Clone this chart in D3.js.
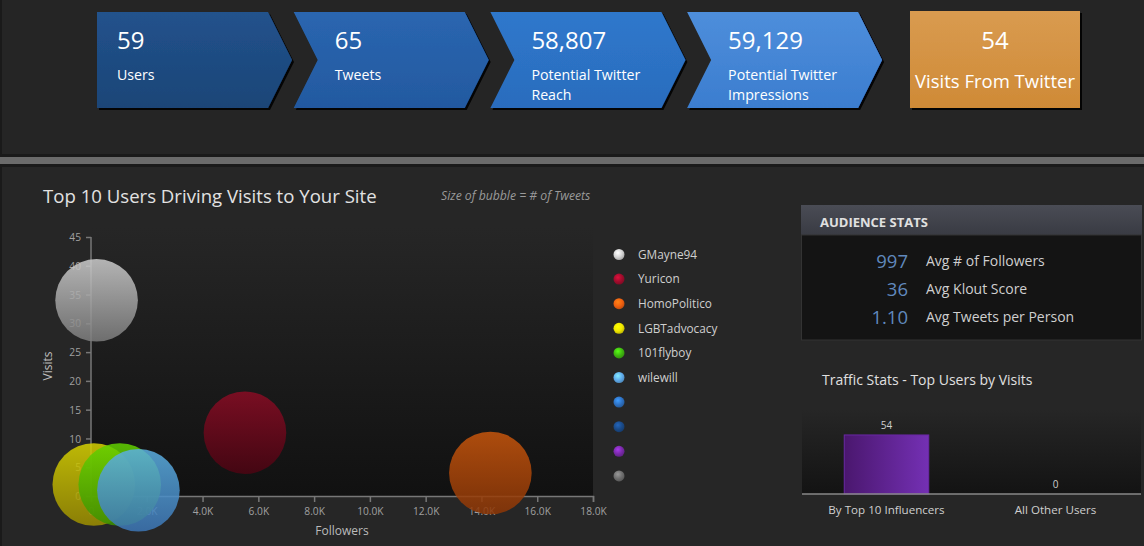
<!DOCTYPE html>
<html>
<head>
<meta charset="utf-8">
<script src="https://cdn.jsdelivr.net/npm/d3@7"></script>
<style>
  html, body { margin: 0; padding: 0; background: #252525; overflow: hidden; }
  svg { display: block; font-family: "Open Sans", "Noto Sans", sans-serif; }
</style>
</head>
<body>
<script>
// KPI banner
var kpiValues = [59, 65, 58807, 59129];
var kpiLabels = [["Users"], ["Tweets"], ["Potential Twitter", "Reach"], ["Potential Twitter", "Impressions"]];
var twitterVisits = 54;
var twitterVisitsLabel = "Visits From Twitter";

// Bubble chart
var users     = ["GMayne94", "Yuricon", "HomoPolitico", "LGBTadvocacy", "101flyboy", "wilewill"];
var followers = [200, 5520, 14320, 100, 1030, 1700];
var visits    = [34, 11, 4, 2, 2, 1];
var tweets    = [1, 1, 1, 1, 1, 1];
var legendNames = ["GMayne94", "Yuricon", "HomoPolitico", "LGBTadvocacy", "101flyboy", "wilewill", "", "", "", ""];
var xTicks = [0, 2000, 4000, 6000, 8000, 10000, 12000, 14000, 16000, 18000];
var yTicks = [0, 5, 10, 15, 20, 25, 30, 35, 40, 45];

// Audience stats
var audienceValues = ["997", "36", "1.10"];
var audienceLabels = ["Avg # of Followers", "Avg Klout Score", "Avg Tweets per Person"];

// Traffic stats
var trafficCats   = ["By Top 10 Influencers", "All Other Users"];
var trafficVisits = [54, 0];

// palettes (style)
var kpiColors = [["#22528c", "#1b4577"], ["#2a66b0", "#2359a0"], ["#2f78cc", "#2a6cbd"], ["#4e8edb", "#3b7dcf"]];
var legendColors = ["#d4d4d4", "#a00c2c", "#f06010", "#f0e800", "#40b810", "#60acec", "#2e72c4", "#1a4a88", "#7a2aaa", "#6e6e6e"];
var bubbleColors = [["#cdcdcd", "#7c7c7c"], ["#8a0c24", "#4c0412"], ["#c8560c", "#8c3606"],
                    ["#d8d200", "#9c8e00"], ["#62d200", "#3a9000"], ["#5cb0e2", "#3c76b6"]];

var W = 1144, H = 546;
var svg = d3.select("body").append("svg").attr("width", W).attr("height", H);
var defs = svg.append("defs");

function vGrad(id, c1, c2, x1, y1, x2, y2) {
    var g = defs.append("linearGradient").attr("id", id)
        .attr("x1", x1 || "0").attr("y1", y1 || "0").attr("x2", x2 || "0").attr("y2", y2 || "1");
    g.append("stop").attr("offset", "0%").attr("stop-color", c1);
    g.append("stop").attr("offset", "100%").attr("stop-color", c2);
}

var shadow = defs.append("filter").attr("id", "shadow").attr("x", "-10%").attr("y", "-10%").attr("width", "130%").attr("height", "130%");
shadow.append("feDropShadow").attr("dx", 2).attr("dy", 2).attr("stdDeviation", 0.6)
    .attr("flood-color", "#000").attr("flood-opacity", 0.9);

// ---------- panels ----------
svg.append("rect").attr("x", 0).attr("y", 0).attr("width", W).attr("height", 155).attr("fill", "#252525");
svg.append("rect").attr("x", 0).attr("y", 0).attr("width", 2).attr("height", 155).attr("fill", "#1a1a1a");
svg.append("rect").attr("x", 0).attr("y", 154).attr("width", W).attr("height", 3).attr("fill", "#1a1a1a");
svg.append("rect").attr("x", 0).attr("y", 157).attr("width", W).attr("height", 7).attr("fill", "#6b6b6b");
svg.append("rect").attr("x", 0).attr("y", 164).attr("width", W).attr("height", 3).attr("fill", "#1a1a1a");
svg.append("rect").attr("x", 0).attr("y", 167).attr("width", W).attr("height", H - 167).attr("fill", "#262626");
svg.append("rect").attr("x", 0).attr("y", 167).attr("width", 2).attr("height", H - 167).attr("fill", "#1a1a1a");

// ---------- KPI chevrons ----------
var fmt = d3.format(",");
kpiValues.forEach(function(v, i) {
    var x0 = 97 + i * 196.7, top = 12, bot = 108, mid = 60;
    vGrad("kpi" + i, kpiColors[i][0], kpiColors[i][1]);
    var pts = [[x0, top], [x0 + 171, top], [x0 + 195, mid], [x0 + 171, bot], [x0, bot]];
    if (i > 0) pts.push([x0 + 24, mid]);
    svg.append("path")
        .attr("d", "M" + pts.map(function(p) { return p.join(","); }).join("L") + "Z")
        .attr("fill", "url(#kpi" + i + ")")
        .attr("filter", "url(#shadow)");
    var tx = x0 + (i > 0 ? 41 : 20);
    svg.append("text").attr("x", tx).attr("y", 49).attr("fill", "#fff")
        .style("font-size", "24px").text(fmt(v));
    kpiLabels[i].forEach(function(l, j) {
        svg.append("text").attr("x", tx).attr("y", 80 + j * 20).attr("fill", "#fff")
            .style("font-size", "14.2px").text(l);
    });
});

vGrad("orange", "#d99b50", "#cf8a36");
svg.append("rect").attr("x", 910).attr("y", 11).attr("width", 170).attr("height", 97)
    .attr("fill", "url(#orange)").attr("filter", "url(#shadow)");
svg.append("text").attr("x", 995).attr("y", 49).attr("text-anchor", "middle").attr("fill", "#fff")
    .style("font-size", "24px").text(twitterVisits);
svg.append("text").attr("x", 995).attr("y", 88).attr("text-anchor", "middle").attr("fill", "#fff")
    .style("font-size", "18.5px").text(twitterVisitsLabel);

// ---------- Bubble chart ----------
svg.append("text").attr("x", 43).attr("y", 203).attr("fill", "#e2e2e2")
    .style("font-size", "18.6px").text("Top 10 Users Driving Visits to Your Site");
svg.append("text").attr("x", 441).attr("y", 200).attr("fill", "#9a9a9a")
    .style("font-size", "12.2px").style("font-style", "italic").text("Size of bubble = # of Tweets");

var x = d3.scaleLinear().domain([0, 18000]).range([91, 593]);
var y = d3.scaleLinear().domain([0, 45]).range([496, 237]);
var r = d3.scaleSqrt().domain([0, d3.max(tweets)]).range([0, 41.3]);

vGrad("plotbg", "#262626", "#111111");
svg.append("rect").attr("x", 91).attr("y", 228).attr("width", 502).attr("height", 268).attr("fill", "url(#plotbg)");

var xAxis = svg.append("g").attr("transform", "translate(0,496)")
    .call(d3.axisBottom(x).tickValues(xTicks).tickSize(6).tickPadding(6)
        .tickFormat(function(d) { return d === 0 ? "0" : (d / 1000).toFixed(1) + "K"; }));
var yAxis = svg.append("g").attr("transform", "translate(91,0)")
    .call(d3.axisLeft(y).tickValues(yTicks).tickSize(5).tickPadding(5));
[xAxis, yAxis].forEach(function(a) {
    a.select(".domain").attr("stroke", "#777").attr("stroke-width", 1.5);
    a.selectAll(".tick line").attr("stroke", "#777").attr("stroke-width", 1.5);
    a.selectAll(".tick text").attr("fill", "#a0a0a0").style("font-size", "10.2px")
        .style("font-family", "'Open Sans', sans-serif");
});
yAxis.select(".domain").attr("d", "M0,237V496");
yAxis.selectAll(".tick text").attr("dy", "0.35em");

svg.append("text").attr("transform", "translate(52,366) rotate(-90)").attr("text-anchor", "middle")
    .attr("fill", "#bbb").style("font-size", "12px").text("Visits");
svg.append("text").attr("x", 342).attr("y", 535).attr("text-anchor", "middle")
    .attr("fill", "#bbb").style("font-size", "12px").text("Followers");

users.forEach(function(u, i) {
    vGrad("bub" + i, bubbleColors[i][0], bubbleColors[i][1]);
});
svg.append("g").selectAll("circle").data(users).join("circle")
    .attr("cx", function(d, i) { return x(followers[i]); })
    .attr("cy", function(d, i) { return y(visits[i]); })
    .attr("r", function(d, i) { return r(tweets[i]); })
    .attr("fill", function(d, i) { return "url(#bub" + i + ")"; })
    .attr("opacity", 0.85);

// legend
legendColors.forEach(function(c, i) {
    var g = defs.append("radialGradient").attr("id", "leg" + i)
        .attr("cx", "40%").attr("cy", "35%").attr("r", "65%");
    g.append("stop").attr("offset", "0%").attr("stop-color", d3.color(c).brighter(0.9));
    g.append("stop").attr("offset", "60%").attr("stop-color", c);
    g.append("stop").attr("offset", "100%").attr("stop-color", d3.color(c).darker(0.6));
});
var legend = svg.append("g").selectAll("g").data(legendNames).join("g")
    .attr("transform", function(d, i) { return "translate(619," + (254.5 + i * 24.6) + ")"; });
legend.append("circle").attr("r", 5.5).attr("fill", function(d, i) { return "url(#leg" + i + ")"; });
legend.append("text").attr("x", 19).attr("dy", "0.36em").attr("fill", "#cfcfcf")
    .style("font-size", "11.8px").text(function(d) { return d; });

// ---------- Audience stats ----------
vGrad("hdr", "#4a4c55", "#393b43");
svg.append("rect").attr("x", 801).attr("y", 205).attr("width", 341).attr("height", 30).attr("fill", "url(#hdr)");
svg.append("rect").attr("x", 801.5).attr("y", 235).attr("width", 340).attr("height", 105)
    .attr("fill", "#141414").attr("stroke", "#333");
svg.append("text").attr("x", 820).attr("y", 227).attr("fill", "#e0e0e0")
    .style("font-size", "13px").style("font-weight", "bold").text("AUDIENCE STATS");
audienceValues.forEach(function(v, i) {
    svg.append("text").attr("x", 908).attr("y", 268 + i * 28).attr("text-anchor", "end")
        .attr("fill", "#6089bd").style("font-size", "18.5px").text(v);
    svg.append("text").attr("x", 926).attr("y", 266 + i * 28)
        .attr("fill", "#cfcfcf").style("font-size", "14px").text(audienceLabels[i]);
});

// ---------- Traffic stats ----------
svg.append("text").attr("x", 822).attr("y", 385).attr("fill", "#e0e0e0")
    .style("font-size", "14px").text("Traffic Stats - Top Users by Visits");

var bx = d3.scaleBand().domain(trafficCats).range([802, 1140]).paddingInner(0.5).paddingOuter(0.25);
var by = d3.scaleLinear().domain([0, 60]).range([494, 428.4]);

vGrad("trbg", "#262626", "#131313");
svg.append("rect").attr("x", 802).attr("y", 410).attr("width", 339).attr("height", 84).attr("fill", "url(#trbg)");
vGrad("bar", "#4a176e", "#7430b4", "0", "0", "1", "0");

svg.append("g").selectAll("rect").data(trafficCats).join("rect")
    .attr("x", function(d) { return bx(d); })
    .attr("y", function(d, i) { return by(trafficVisits[i]); })
    .attr("width", bx.bandwidth())
    .attr("height", function(d, i) { return by(0) - by(trafficVisits[i]); })
    .attr("fill", "url(#bar)").attr("stroke", "#6a28a4").attr("stroke-width", 1);
svg.append("g").selectAll("text").data(trafficCats).join("text")
    .attr("x", function(d) { return bx(d) + bx.bandwidth() / 2; })
    .attr("y", function(d, i) { return by(trafficVisits[i]) - 6; })
    .attr("text-anchor", "middle").attr("fill", "#cfcfcf").style("font-size", "10px")
    .text(function(d, i) { return trafficVisits[i]; });

var tAxis = svg.append("g").attr("transform", "translate(0,494)")
    .call(d3.axisBottom(bx).tickSize(0).tickPadding(12));
tAxis.select(".domain").attr("stroke", "#888").attr("stroke-width", 1.5).attr("d", "M802,0H1141");
tAxis.selectAll(".tick text").attr("fill", "#cfcfcf").style("font-size", "11.6px")
    .style("font-family", "'Open Sans', sans-serif");
</script>
</body>
</html>
